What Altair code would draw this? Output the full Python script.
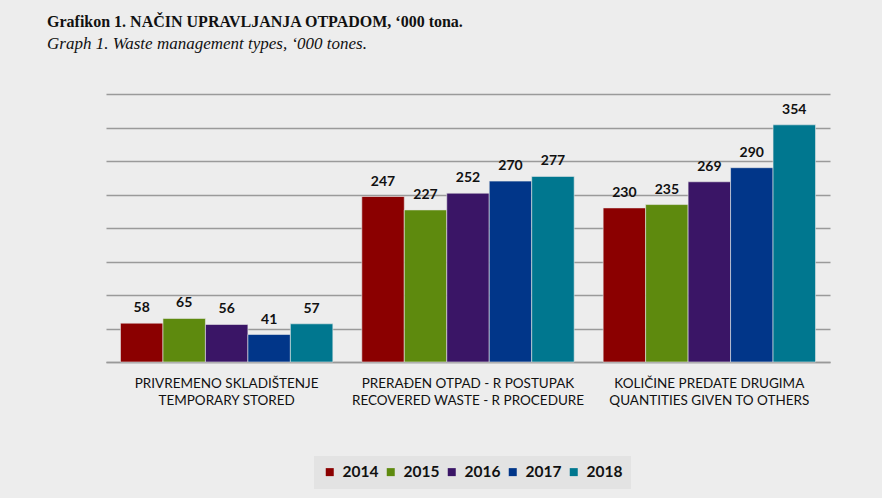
import altair as alt
import pandas as pd

categories = [
    "PRIVREMENO SKLADIŠTENJE|TEMPORARY STORED",
    "PRERAĐEN OTPAD - R POSTUPAK|RECOVERED WASTE - R PROCEDURE",
    "KOLIČINE PREDATE DRUGIMA|QUANTITIES GIVEN TO OTHERS",
]
years = ["2014", "2015", "2016", "2017", "2018"]
values = {
    "2014": [58, 247, 230],
    "2015": [65, 227, 235],
    "2016": [56, 252, 269],
    "2017": [41, 270, 290],
    "2018": [57, 277, 354],
}
colors = ["#8b0000", "#5e8a0e", "#3a1566", "#013689", "#00778f"]
grid_values = [0, 50, 100, 150, 200, 250, 300, 350, 400]

rows = []
for y in years:
    for c, v in zip(categories, values[y]):
        rows.append({"category": c, "year": y, "value": v})
df = pd.DataFrame(rows)

font_sans = "Lato"
font_serif = "Liberation Serif"

x = alt.X(
    "category:N",
    sort=categories,
    scale=alt.Scale(paddingInner=0.12, paddingOuter=0.06),
    axis=alt.Axis(
        title=None,
        labelAngle=0,
        labelExpr="split(datum.label, '|')",
        labelFont=font_sans,
        labelFontSize=13.5,
        labelColor="#111",
        labelPadding=14,
        labelLineHeight=17,
        labelLimit=0,
        ticks=False,
        domain=True,
        domainColor="#999",
        domainWidth=1.5,
    ),
)
y = alt.Y(
    "value:Q",
    scale=alt.Scale(domain=[0, 400]),
    axis=alt.Axis(
        title=None,
        labels=False,
        ticks=False,
        domain=False,
        values=grid_values,
        gridColor="#9a9a9a",
        gridWidth=1.5,
    ),
)

base = alt.Chart(df).encode(
    x=x,
    xOffset=alt.XOffset("year:N", sort=years),
    y=y,
)

bars = base.mark_bar(stroke="#e8e8e8", strokeWidth=0.6).encode(
    color=alt.Color(
        "year:N",
        sort=years,
        scale=alt.Scale(domain=years, range=colors),
        legend=alt.Legend(
            title=None,
            orient="none",
            legendX=208,
            legendY=362,
            direction="horizontal",
            symbolType="square",
            symbolSize=64,
            symbolStrokeWidth=0,
            labelFont=font_sans,
            labelFontSize=15.5,
            labelFontWeight="bold",
            labelColor="#111",
            columnPadding=4,
            labelOffset=5,
            fillColor="#e3e3e3",
            padding=8,
        ),
    )
)

labels = base.mark_text(
    dy=-15, font=font_sans, fontSize=14, fontWeight="bold", color="#111"
).encode(text="value:Q")

chart = (
    alt.layer(bars, labels)
    .properties(
        width=724,
        height=268,
        background="#ededed",
        padding={"left": 106, "top": 94, "right": 52, "bottom": 136},
        autosize=alt.AutoSizeParams(type="none"),
        title=alt.TitleParams(
            text="Grafikon 1. NAČIN UPRAVLJANJA OTPADOM, ‘000 tona.",
            subtitle="Graph 1. Waste management types, ‘000 tones.",
            anchor="start",
            frame="group",
            dx=-59,
            offset=42,
            font=font_serif,
            fontSize=16,
            fontWeight="bold",
            color="#111",
            subtitleFont=font_serif,
            subtitleFontSize=17,
            subtitleFontStyle="italic",
            subtitleColor="#111",
            subtitlePadding=6,
        ),
    )
    .configure_view(stroke=None)
)

chart.save("out.html", embed_options={"renderer": "svg", "actions": False})
